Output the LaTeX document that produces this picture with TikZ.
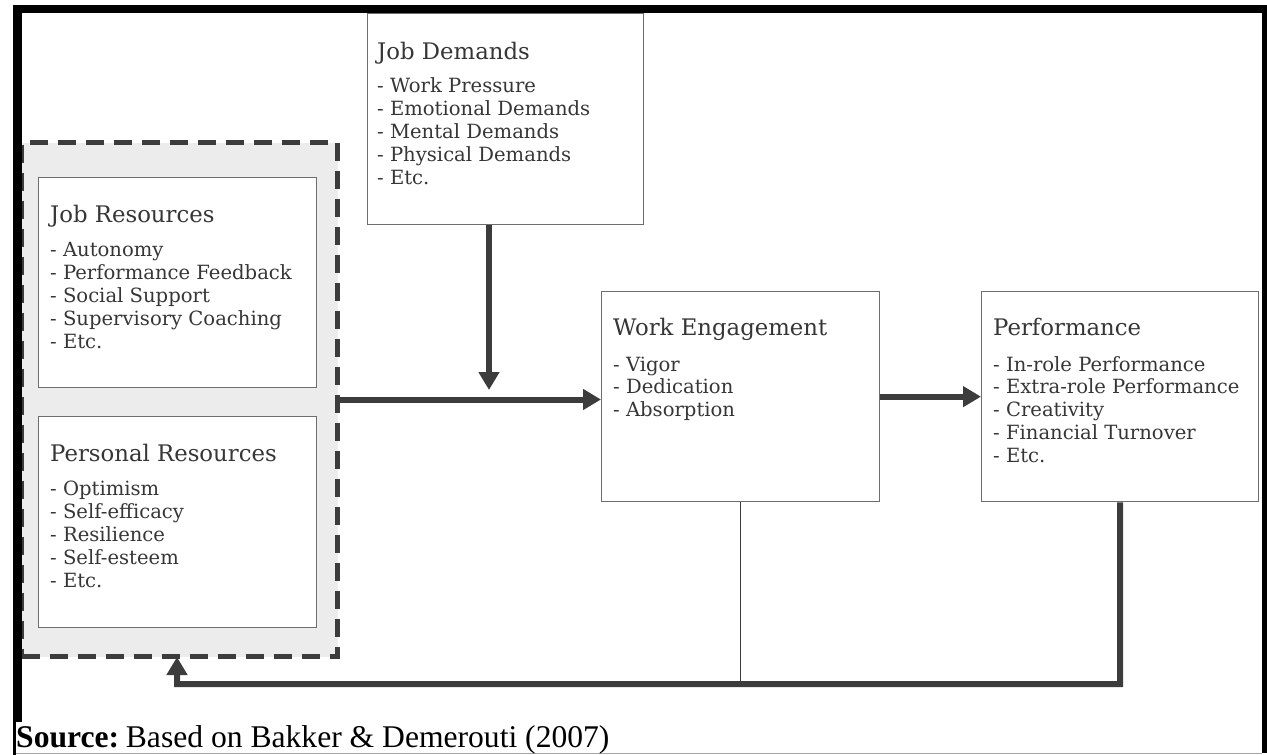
\documentclass[tikz,border=0pt]{standalone}
\usepackage{fontspec}
\setmainfont{DejaVu Serif}
\newfontfamily\srcfont{Liberation Serif}
\usetikzlibrary{arrows.meta}
\definecolor{ink}{HTML}{363636}
\definecolor{arr}{HTML}{3C3C3C}
\definecolor{edge}{HTML}{6E6E6E}
\definecolor{panel}{HTML}{ECECEC}
\tikzset{
 box/.style={draw=edge, line width=1.3pt, fill=white, anchor=north west, inner sep=0pt},
 ttl/.style={anchor=base west, inner sep=0pt, text=ink, font=\fontsize{22.8}{27}\selectfont},
 itm/.style={anchor=base west, inner sep=0pt, text=ink, font=\fontsize{19.6}{23}\selectfont},
 flow/.style={draw=arr, line width=6pt, -{Triangle[length=18pt,width=20pt]}},
 fb/.style={draw=arr, line width=6pt, line join=miter},
 thinline/.style={draw=arr, line width=1.3pt},
}
\begin{document}
\begin{tikzpicture}[x=1pt,y=-1pt]
\useasboundingbox (0,0) rectangle (1267,755);
% resources panel
\node[anchor=north west, inner sep=0pt, fill=panel, draw=arr, line width=5pt, dash pattern=on 18pt off 10pt, minimum width=316, minimum height=514] (res) at (19,140) {};
% boxes
\node[box, minimum width=278, minimum height=210] (jr) at (38,177) {};
\node[box, minimum width=278, minimum height=211] (pr) at (38,416) {};
\node[box, minimum width=276, minimum height=211] (jd) at (367,13) {};
\node[box, minimum width=278, minimum height=210] (we) at (601,291) {};
\node[box, minimum width=277, minimum height=210] (pf) at (981,291) {};
% texts
\node[ttl] (jrT) at (50,222) {Job Resources};
\foreach \t [count=\i] in {Autonomy, Performance Feedback, Social Support, Supervisory Coaching, Etc.}
  \node[itm] (jr\i) at (50,{256+23*(\i-1)}) {- \t};
\node[ttl] (prT) at (50,461) {Personal Resources};
\foreach \t [count=\i] in {Optimism, Self-efficacy, Resilience, Self-esteem, Etc.}
  \node[itm] (pr\i) at (50,{495+23*(\i-1)}) {- \t};
\node[ttl] (jdT) at (377,59) {Job Demands};
\foreach \t [count=\i] in {Work Pressure, Emotional Demands, Mental Demands, Physical Demands, Etc.}
  \node[itm] (jd\i) at (377,{92+23*(\i-1)}) {- \t};
\node[ttl] (weT) at (613,335) {Work Engagement};
\foreach \t [count=\i] in {Vigor, Dedication, Absorption}
  \node[itm] (we\i) at (613,{371+22.5*(\i-1)}) {- \t};
\node[ttl] (pfT) at (993,335) {Performance};
\foreach \t [count=\i] in {In-role Performance, Extra-role Performance, Creativity, Financial Turnover, Etc.}
  \node[itm] (pf\i) at (993,{371+22.75*(\i-1)}) {- \t};
% connectors
\coordinate (jdTip) at (489,390);
\draw[flow] (jdTip |- jd.south) -- (jdTip);
\draw[flow] (res.east) -- (res.east -| we.west);
\draw[flow] (we.east) -- (pf.west);
\coordinate (fbR) at (1120,684);
\coordinate (fbL) at (177,684);
\coordinate (fbTip) at (177,657);
\draw[thinline] (we.south) -- (we.south |- fbR);
\draw[fb, -{Triangle[length=18pt,width=20pt]}] (pf.south) -- (fbR) -- (fbL) -- (fbTip);
% frame
\fill[black] (13,5) rectangle (1267,13);
\fill[black] (13,5) rectangle (22,722);
\fill[black] (13,722) rectangle (16,755);
\fill[black] (1262,5) rectangle (1267,753);
\draw[black!35, line width=1pt] (16,753) -- (1262,753);
% source
\node[anchor=base west, inner sep=0pt, font=\srcfont\fontsize{31.6}{36}\selectfont] (src) at (16,747) {\textbf{Source:}\hspace{-0.12em} Based on Bakker \& Demerouti (2007)};
\end{tikzpicture}
\end{document}
